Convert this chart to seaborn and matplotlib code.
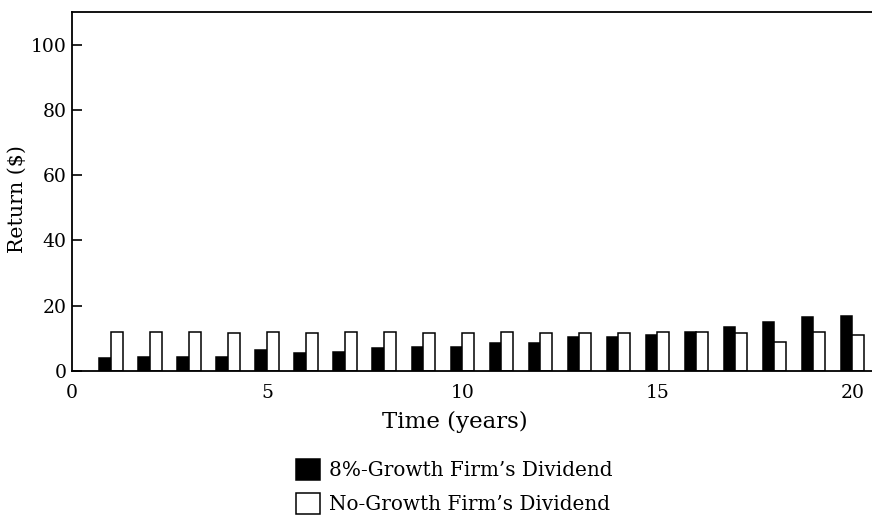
import matplotlib
matplotlib.use("Agg")
import matplotlib.pyplot as plt
import seaborn as sns
import pandas as pd

years = list(range(1, 21))
growth_div = [4.1, 4.3, 4.3, 4.3, 6.3, 5.6, 5.7, 7.0, 7.4, 7.5,
              8.7, 8.7, 10.4, 10.4, 10.9, 12.1, 13.5, 15.1, 16.6, 17.0]
nogrowth_div = [11.8, 11.8, 11.8, 11.5, 12.0, 11.5, 12.1, 11.8, 11.5, 11.6,
                12.0, 11.6, 11.6, 11.7, 12.0, 12.1, 11.6, 9.0, 11.8, 11.1]
series_names = ["8%-Growth Firm\u2019s Dividend", "No-Growth Firm\u2019s Dividend"]
x_ticks = [0, 5, 10, 15, 20]
y_ticks = [0, 20, 40, 60, 80, 100]

df = pd.DataFrame({
    "year": years * 2,
    "value": growth_div + nogrowth_div,
    "series": [series_names[0]] * len(years) + [series_names[1]] * len(years),
})

sns.set_theme(style="white")
plt.rcParams["font.family"] = ["DejaVu Serif"]
plt.rcParams["text.color"] = "black"
plt.rcParams["axes.labelcolor"] = "black"
plt.rcParams["xtick.color"] = "black"
plt.rcParams["ytick.color"] = "black"

fig = plt.figure(figsize=(8.72, 5.20), dpi=100)
ax = fig.add_axes([72 / 872, 149 / 520, 800 / 872, 359 / 520])

sns.barplot(data=df, x="year", y="value", hue="series", native_scale=True,
            palette=["black", "white"], edgecolor="black", linewidth=1.1,
            width=0.6, saturation=1, ax=ax, legend=True)

ax.set_xlim(0, 20.5)
ax.set_ylim(0, 110)
ax.set_xticks(x_ticks)
ax.set_xticklabels([str(t) for t in x_ticks])
ax.set_yticks(y_ticks)
ax.set_yticklabels([str(t) for t in y_ticks])

for s in ["left", "bottom", "top"]:
    ax.spines[s].set_visible(True)
    ax.spines[s].set_color("black")
    ax.spines[s].set_linewidth(1.3)
ax.spines["right"].set_visible(False)

ax.tick_params(axis="y", direction="in", length=7, width=1.2, color="black",
               labelsize=13.5, pad=4, left=True, labelcolor="black")
ax.tick_params(axis="x", length=0, labelsize=13.5, pad=9, labelcolor="black")

ax.set_xlabel("Time (years)", fontsize=16.5, color="black")
ax.xaxis.set_label_coords(0.478, -0.11)
ax.set_ylabel("Return ($)", fontsize=14.8, color="black")
ax.yaxis.set_label_coords(-0.056, 0.479)

handles, labels = ax.get_legend_handles_labels()
if ax.legend_ is not None:
    ax.legend_.remove()
leg = fig.legend(handles, labels, loc="upper left",
                 bbox_to_anchor=(296 / 872, 1 - 459 / 520),
                 frameon=False, fontsize=14.4, handlelength=1.2, handleheight=1.2,
                 handletextpad=0.45, labelspacing=0.65, borderaxespad=0, borderpad=0)
for t in leg.get_texts():
    t.set_color("black")

fig.savefig("out.png", dpi=100)
